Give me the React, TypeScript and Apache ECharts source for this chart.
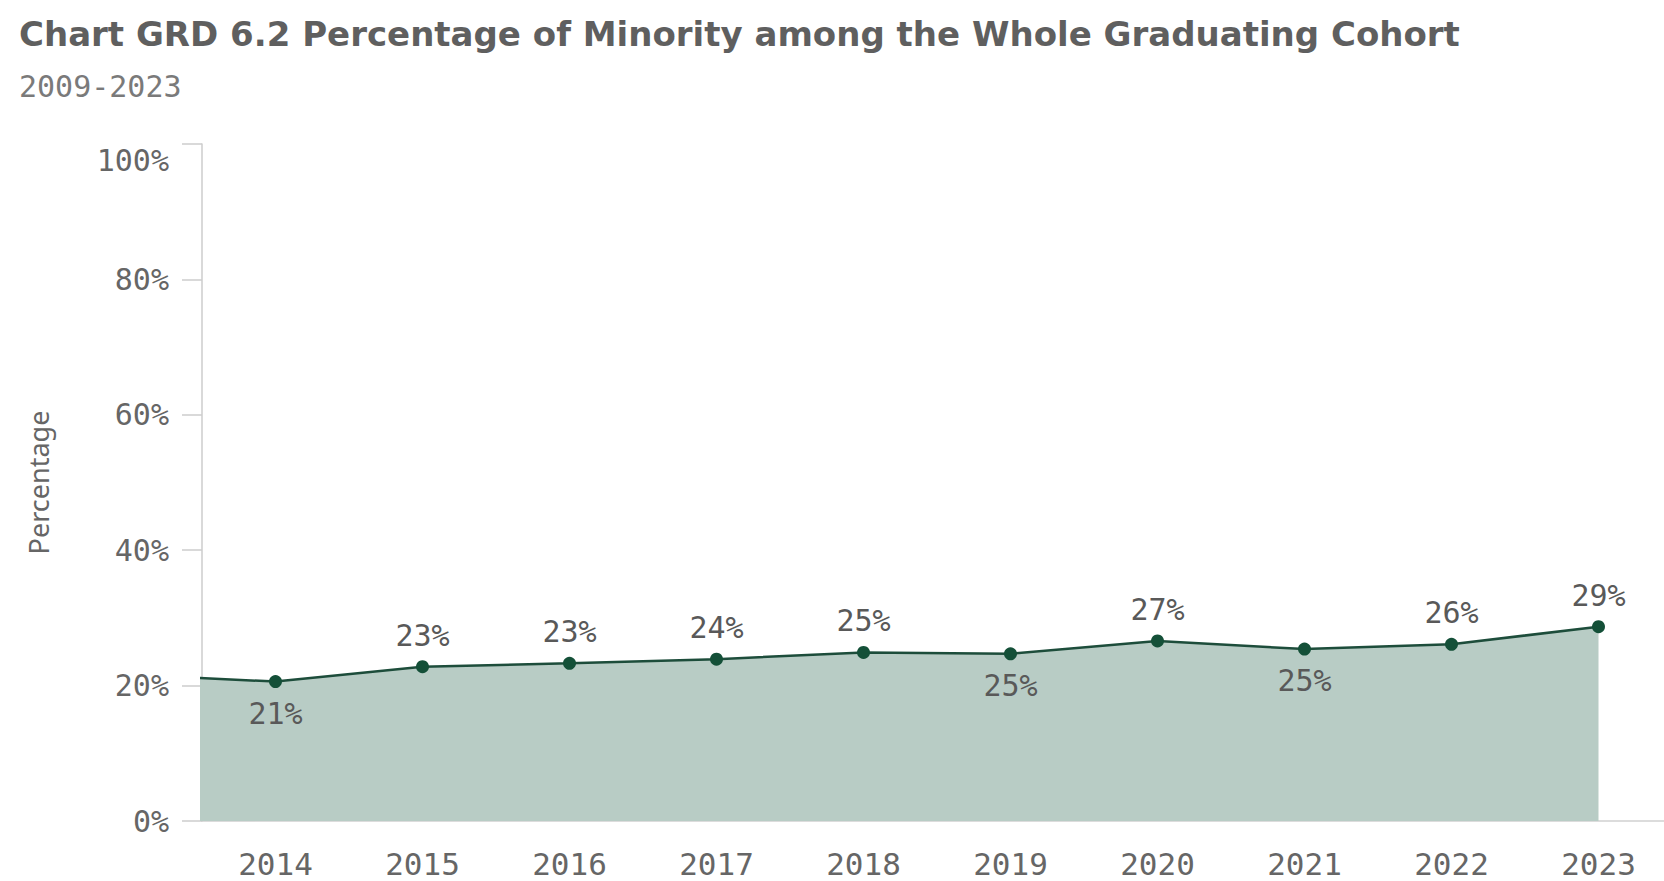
import React, { useEffect, useRef } from "react";
import * as echarts from "echarts";

const TITLE = "Chart GRD 6.2 Percentage of Minority among the Whole Graduating Cohort";
const SUBTITLE = "2009-2023";
const Y_NAME = "Percentage";
const YEARS = ["2014", "2015", "2016", "2017", "2018", "2019", "2020", "2021", "2022", "2023"];
// Year values including the partly visible 2013 point at the left edge
const SERIES_YEARS = [2013, 2014, 2015, 2016, 2017, 2018, 2019, 2020, 2021, 2022, 2023];
const SERIES_VALUES = [21.6, 20.6, 22.8, 23.3, 23.9, 24.9, 24.7, 26.6, 25.4, 26.1, 28.7];
const LABEL_BELOW = [2014, 2019, 2021];

export default function App() {
  const ref = useRef<HTMLDivElement>(null);
  useEffect(() => {
    if (!ref.current) return;
    const chart = echarts.init(ref.current, undefined, { renderer: "svg" });
    const mono = "DejaVu Sans Mono";
    const data = SERIES_YEARS.map((y, i) => {
      const item: any = { value: [y, SERIES_VALUES[i]] };
      if (y === 2013) {
        item.symbol = "none";
        item.label = { show: false };
      } else if (LABEL_BELOW.includes(y)) {
        item.label = { position: "bottom" };
      }
      return item;
    });
    chart.setOption({
      animation: false,
      backgroundColor: "#ffffff",
      title: [
        {
          text: TITLE,
          left: 14,
          top: 12,
          textStyle: { fontFamily: "DejaVu Sans", fontWeight: "bold", fontSize: 34, color: "#5f5f5f" },
        },
        {
          text: SUBTITLE,
          left: 14,
          top: 66,
          textStyle: { fontFamily: mono, fontWeight: "normal", fontSize: 30, color: "#7a7a7a" },
        },
      ],
      grid: { left: 202, top: 144, width: 1470, height: 677 },
      xAxis: [
        {
          type: "category",
          data: YEARS,
          boundaryGap: true,
          axisLine: { show: true, lineStyle: { color: "#d0d0d0", width: 1.5 } },
          axisTick: { show: false },
          axisLabel: { fontFamily: mono, fontSize: 31, color: "#666666", margin: 27 },
          splitLine: { show: false },
        },
        {
          type: "value",
          min: 2013.5,
          max: 2023.5,
          show: false,
          splitLine: { show: false },
        },
      ],
      yAxis: {
        type: "value",
        min: 0,
        max: 100,
        interval: 20,
        name: Y_NAME,
        nameLocation: "middle",
        nameGap: 150,
        nameTextStyle: { fontFamily: "Noto Sans", fontSize: 27, color: "#666666" },
        axisLine: { show: true, lineStyle: { color: "#cccccc", width: 1.5 } },
        axisTick: { show: true, length: 20, lineStyle: { color: "#cccccc", width: 1.5 } },
        splitLine: { show: false },
        axisLabel: {
          fontFamily: mono,
          fontSize: 30,
          color: "#666666",
          margin: 33,
          formatter: (v: number) => (v === 100 ? "{top|" + v + "%}" : v + "%"),
          rich: { top: { fontFamily: mono, fontSize: 30, color: "#666666", padding: [32, 0, 0, 0] } },
        },
      },
      series: [
        {
          type: "line",
          xAxisIndex: 1,
          data,
          clip: true,
          symbol: "circle",
          symbolSize: 13,
          itemStyle: { color: "#145038" },
          lineStyle: { color: "#1d4d3b", width: 2.5 },
          areaStyle: { color: "#b8ccc5", opacity: 1 },
          label: {
            show: true,
            position: "top",
            distance: 10,
            fontFamily: mono,
            fontSize: 30,
            color: "#595959",
            formatter: (p: any) => Math.round(p.value[1]) + "%",
          },
        },
      ],
    });
    return () => chart.dispose();
  }, []);
  return (
    <div
      style={{ position: "fixed", left: 0, top: 0, width: 1664, height: 881, overflow: "hidden" }}
    >
      <div ref={ref} style={{ width: 1672, height: 881 }} />
    </div>
  );
}
